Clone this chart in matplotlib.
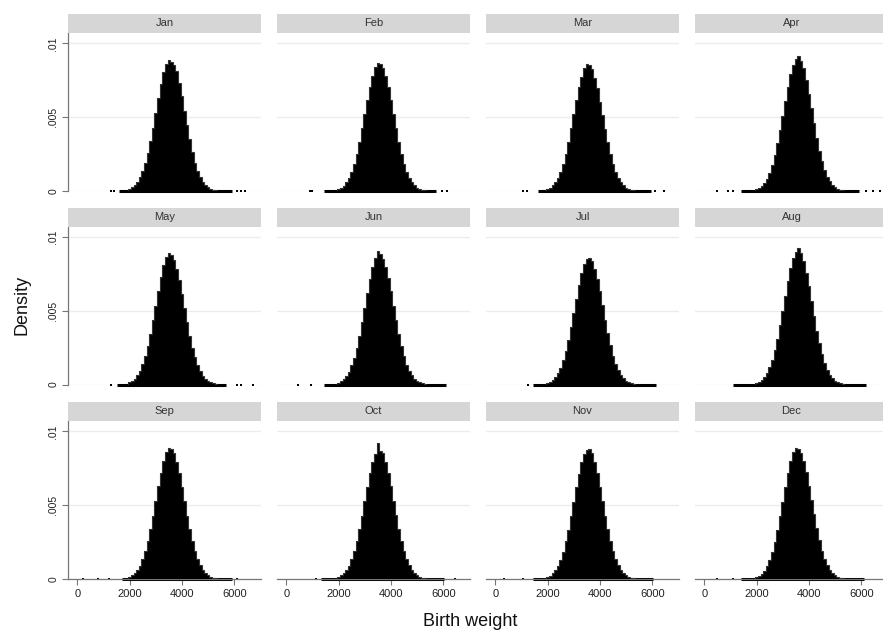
import numpy as np
import matplotlib
matplotlib.use("Agg")
import matplotlib.pyplot as plt

plt.rcParams['font.family'] = ['Liberation Sans', 'DejaVu Sans']

# Months shown, one panel each (4 x 3 grid)
MONTHS = ['Jan', 'Feb', 'Mar', 'Apr', 'May', 'Jun',
          'Jul', 'Aug', 'Sep', 'Oct', 'Nov', 'Dec']

# Bin centres (g) for the body of each histogram, 100 g bins
BIN_START = 2000
BIN_WIDTH = 100

# Densities, in units of 1e-5
DENS_JAN = [15, 25, 41, 62, 93, 136, 190, 258, 340, 430, 530, 628, 725, 805, 860, 890, 872,
            855, 812, 730, 640, 545, 445, 350, 265, 192, 136, 92, 61, 40, 25, 15, 9, 5]
DENS_FEB = [13, 22, 37, 58, 90, 131, 184, 252, 332, 425, 520, 615, 706, 782, 838, 870, 862,
            834, 778, 705, 615, 520, 425, 333, 252, 185, 131, 90, 59, 38, 23, 14, 8, 5]
DENS_MAR = [14, 23, 38, 59, 90, 132, 185, 253, 333, 424, 520, 618, 705, 775, 835, 860, 852,
            825, 768, 695, 606, 512, 418, 330, 250, 184, 131, 90, 59, 38, 23, 14, 8, 5]
DENS_APR = [12, 21, 35, 55, 84, 124, 176, 242, 322, 412, 510, 610, 705, 790, 855, 895, 915,
            880, 830, 752, 660, 560, 458, 360, 274, 201, 143, 98, 65, 42, 26, 15, 9, 5]
DENS_MAY = [15, 25, 40, 62, 93, 136, 191, 260, 343, 435, 535, 635, 728, 806, 862, 893, 875,
            845, 785, 705, 612, 515, 420, 330, 250, 183, 130, 89, 59, 38, 23, 14, 8, 5]
DENS_JUN = [13, 23, 38, 58, 88, 129, 182, 250, 331, 422, 520, 620, 714, 796, 860, 905, 885,
            852, 796, 720, 630, 532, 434, 342, 260, 190, 135, 92, 61, 39, 24, 14, 8, 5]
DENS_JUL = [11, 19, 32, 50, 77, 114, 163, 225, 300, 387, 482, 580, 673, 755, 818, 852, 860,
            835, 785, 715, 630, 537, 440, 348, 266, 196, 140, 96, 64, 41, 25, 15, 9, 5]
DENS_AUG = [11, 19, 32, 51, 79, 118, 168, 233, 311, 401, 500, 602, 700, 788, 855, 900, 923,
            888, 835, 758, 666, 566, 463, 365, 278, 204, 145, 99, 65, 42, 26, 15, 9, 5]
DENS_SEP = [14, 24, 39, 60, 91, 133, 188, 256, 338, 430, 528, 628, 720, 800, 857, 885, 880,
            850, 792, 716, 625, 527, 430, 338, 257, 188, 134, 92, 61, 39, 24, 14, 8, 5]
DENS_OCT = [14, 24, 39, 60, 91, 133, 188, 256, 337, 428, 526, 624, 716, 795, 845, 920, 870,
            850, 795, 718, 627, 529, 431, 339, 257, 188, 134, 92, 60, 39, 24, 14, 8, 5]
DENS_NOV = [13, 23, 38, 59, 90, 132, 186, 254, 335, 426, 523, 620, 712, 790, 848, 875, 880,
            850, 792, 715, 624, 527, 430, 338, 257, 188, 134, 92, 60, 39, 24, 14, 8, 5]
DENS_DEC = [13, 22, 37, 57, 88, 129, 183, 251, 332, 424, 522, 622, 716, 797, 857, 890, 882,
            856, 800, 724, 633, 535, 437, 344, 262, 192, 137, 94, 62, 40, 25, 15, 9, 5]

DENSITIES = [DENS_JAN, DENS_FEB, DENS_MAR, DENS_APR, DENS_MAY, DENS_JUN,
             DENS_JUL, DENS_AUG, DENS_SEP, DENS_OCT, DENS_NOV, DENS_DEC]

# Extent of the thin near-zero tail (g)
TAIL_LO = [1600, 1440, 1640, 1400, 1500, 1440, 1440, 1100, 1700, 1340, 1440, 1400]
TAIL_HI = [5900, 5740, 5940, 5900, 5700, 6100, 6140, 6200, 5900, 6040, 6040, 6100]

# Isolated low-count bins beyond the tail
STRAYS = [
    [1300, 1400, 6100, 6250, 6400],
    [900, 1000, 5950, 6140],
    [1040, 1200, 6100, 6440],
    [500, 900, 1100, 6200, 6450, 6700],
    [1300, 6100, 6250, 6700],
    [440, 940],
    [1240],
    [],
    [200, 800, 1200, 6100],
    [1140, 6440],
    [340, 1040],
    [500, 1100],
]

Y_TICKS = [0, 0.005, 0.01]
Y_LABELS = ['0', '.005', '.01']
X_TICKS = [0, 2000, 4000, 6000]

FIG_W, FIG_H = 883, 636
COL_LEFT = [68, 277, 486, 695]      # pixels
ROW_BOTTOM = [191, 384.5, 579]       # pixels from top (y = 0 line)
AX_W, AX_H, STRIP_H = 193, 158, 19

fig = plt.figure(figsize=(FIG_W / 100, FIG_H / 100), dpi=100)
fig.patch.set_facecolor('white')

for i, month in enumerate(MONTHS):
    r, c = divmod(i, 4)
    left = COL_LEFT[c] / FIG_W
    bottom = 1 - ROW_BOTTOM[r] / FIG_H
    ax = fig.add_axes([left, bottom, AX_W / FIG_W, AX_H / FIG_H])
    ax.set_xlim(-356, 7024)
    ax.set_ylim(0, 0.0107)

    # grid lines
    for yv in Y_TICKS:
        ax.axhline(yv, color='#ececec', lw=1.0, zorder=0)

    dens = np.array(DENSITIES[i]) * 1e-5
    edges = BIN_START - BIN_WIDTH / 2 + BIN_WIDTH * np.arange(len(dens) + 1)
    ax.hlines(0, TAIL_LO[i], TAIL_HI[i], color='black', lw=2.2, zorder=2, clip_on=False)
    if STRAYS[i]:
        ax.scatter(STRAYS[i], [0] * len(STRAYS[i]), marker='s', s=3, color='black',
                   zorder=2, clip_on=False, linewidths=0)
    ax.stairs(dens, edges, fill=True, color='black', zorder=3)
    ax.stairs(dens, edges, color='#333333', lw=0.8, zorder=4)

    for s in ['top', 'right']:
        ax.spines[s].set_visible(False)
    ax.spines['left'].set_color('#777777')
    ax.spines['bottom'].set_color('#777777')
    ax.spines['left'].set_linewidth(0.9)
    ax.spines['bottom'].set_linewidth(0.9)

    if c == 0:
        ax.set_yticks(Y_TICKS)
        ax.set_yticklabels(Y_LABELS, rotation=90, va='center', fontsize=7.5, color='#222222')
        ax.tick_params(axis='y', length=4, width=0.8, color='#777777', pad=3)
    else:
        ax.spines['left'].set_visible(False)
        ax.set_yticks([])

    if r == 2:
        ax.set_xticks(X_TICKS)
        ax.set_xticklabels([str(t) for t in X_TICKS], fontsize=8, color='#222222')
        ax.tick_params(axis='x', length=4, width=0.8, color='#777777', pad=3)
    else:
        ax.spines['bottom'].set_visible(False)
        ax.set_xticks([])

    # facet strip
    strip = fig.add_axes([left, bottom + AX_H / FIG_H, AX_W / FIG_W, STRIP_H / FIG_H])
    strip.set_facecolor('#d6d6d6')
    strip.set_xticks([])
    strip.set_yticks([])
    for s in strip.spines.values():
        s.set_visible(False)
    strip.text(0.5, 0.5, month, ha='center', va='center', fontsize=8, color='#333333')

fig.text(22 / FIG_W, 1 - 305 / FIG_H, 'Density', rotation=90, ha='center', va='center',
         fontsize=13, color='#111111')
fig.text(470 / FIG_W, 1 - 622 / FIG_H, 'Birth weight', ha='center', va='center',
         fontsize=13, color='#111111')

fig.savefig('out.png', dpi=100, facecolor='white')
